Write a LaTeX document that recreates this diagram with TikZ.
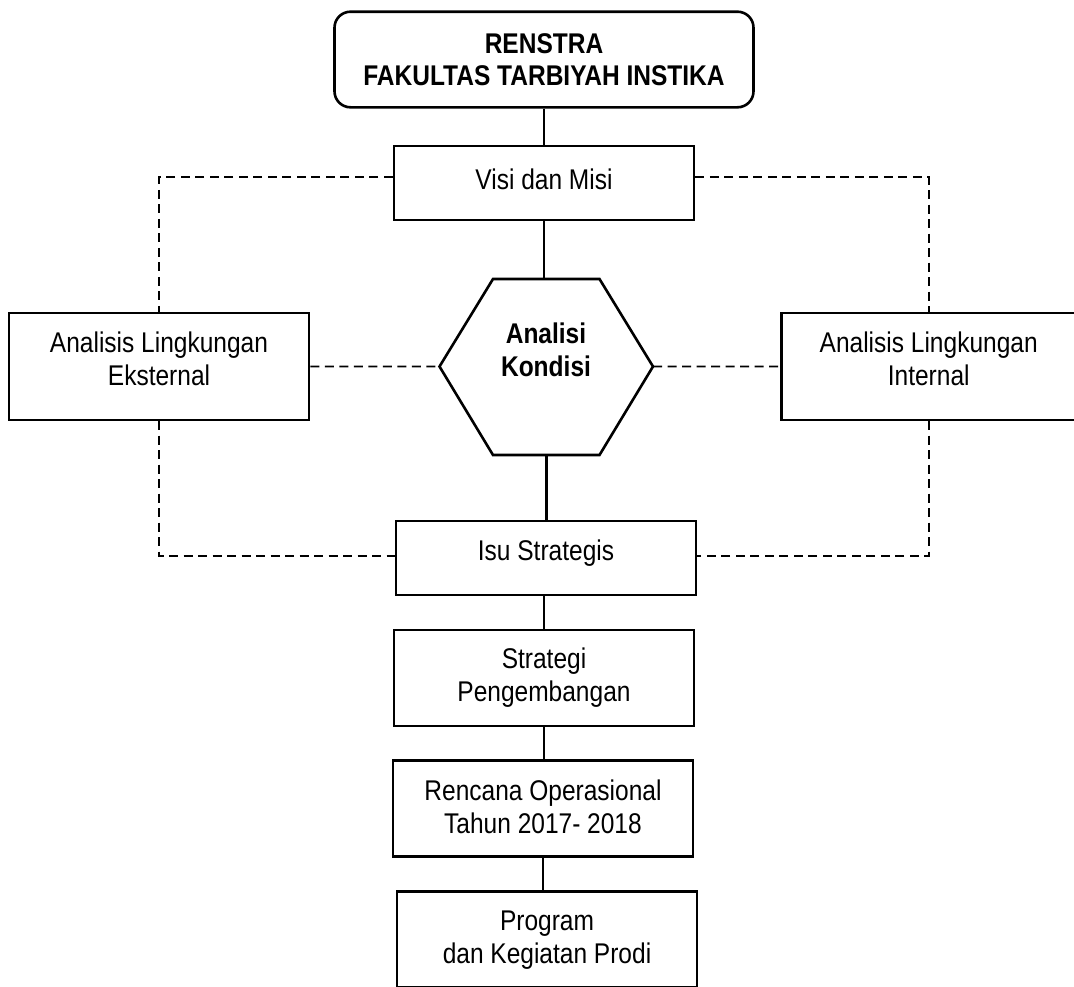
\documentclass[tikz,border=0pt]{standalone}
\usepackage{fontspec}
\setmainfont[FakeStretch=0.86]{Liberation Sans}
\usepackage{tikz}
\usetikzlibrary{calc}

\begin{document}
\begin{tikzpicture}[x=1pt,y=1pt]
\tikzstyle{every node}+=[inner sep=0pt, align=center, font=\fontsize{28.5}{33}\selectfont]
\tikzstyle{kotak}=[draw=black, line width=2.6pt, minimum width=300pt]
\tikzstyle{garis}=[black, line width=2.6pt]
\tikzstyle{putus}=[black, line width=1.8pt, dash pattern=on 9pt off 5.5pt]
\useasboundingbox (0,0) rectangle (1074,-986);
\clip (0,0) rectangle (1074,-986);
\node [kotak, rounded corners=16pt, minimum width=419pt, minimum height=95.6pt, font=\fontsize{28.5}{31.5}\selectfont\bfseries] (renstra) at (544,-59.5) {RENSTRA\\FAKULTAS TARBIYAH INSTIKA};
\node [kotak, minimum height=74pt, text depth=8pt] (visi) at (544,-183) {Visi dan Misi};
\node [kotak, minimum height=107pt, text depth=16pt] (eks) at (159,-366.4) {Analisis Lingkungan\\Eksternal};
\node [kotak, minimum width=294pt, minimum height=107pt, text depth=16pt] (int) at (928.7,-366.4) {Analisis Lingkungan\\Internal};
\node [kotak, minimum height=74pt, text depth=16pt] (isu) at (546,-558) {Isu Strategis};
\node [kotak, minimum height=96pt] (strat) at (544,-678) {Strategi\\Pengembangan};
\node [kotak, minimum height=96pt, text depth=5pt] (renc) at (543,-808.7) {Rencana Operasional\\Tahun 2017- 2018};
\node [kotak, minimum height=96pt] (prog) at (547,-939.7) {Program\\dan Kegiatan Prodi};
\node [font=\fontsize{28.5}{33}\selectfont\bfseries] (kondisi) at (546,-350) {Analisi\\Kondisi};
\coordinate (hexc) at (546,-366.5);
\draw [garis, line join=miter] (hexc) ++(-106.5,0) coordinate (hexW) -- ++(53.5,87.5) coordinate (hexNW)
  -- ++(106.5,0) coordinate (hexNE) -- ++(53.5,-87.5) coordinate (hexE)
  -- ++(-53.5,-88.5) coordinate (hexSE) -- ++(-106.5,0) coordinate (hexSW) -- cycle;
\coordinate (hexN) at ($(hexNW)!0.5!(hexNE)$);
\coordinate (hexS) at ($(hexSW)!0.5!(hexSE)$);
\draw [garis] (renstra.south) -- (visi.north);
\draw [garis] (visi.south) -- (visi.south |- hexN);
\draw [garis] (isu.north -| hexS) -- (hexS);
\draw [garis] (isu.south -| strat.north) -- (strat.north);
\draw [garis] (strat.south) -- (strat.south |- renc.north);
\draw [garis] (renc.south) -- (renc.south |- prog.north);
\draw [putus] ([yshift=6pt]visi.west) -| (eks.north);
\draw [putus] ([yshift=6pt]visi.east) -| (int.north);
\draw [putus] (eks.east) -- (hexW);
\draw [putus] (hexE) -- (int.west);
\draw [putus] (eks.south) |- ([yshift=2pt]isu.west);
\draw [putus] (int.south) |- ([yshift=2pt]isu.east);
\end{tikzpicture}
\end{document}
